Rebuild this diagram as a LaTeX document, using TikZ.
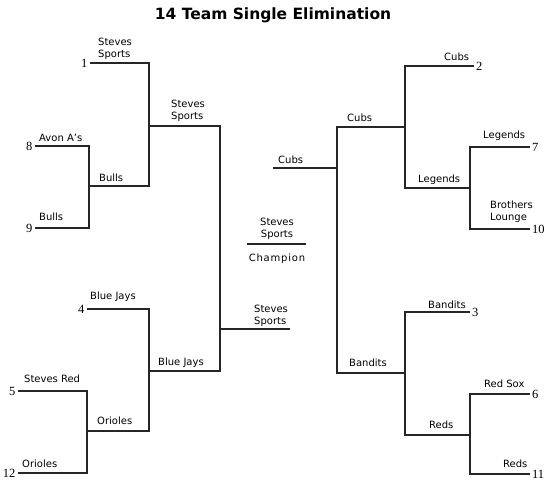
\documentclass[tikz,border=0pt]{standalone}
\usepackage{fontspec}
\setmainfont{DejaVu Sans}
\newfontfamily\seedfont{Liberation Serif}
\usetikzlibrary{positioning}
\tikzset{
  bline/.style={line width=2.8pt, black!85, line join=miter},
  team/.style={font=\fontsize{10}{12}\selectfont, inner sep=0pt, anchor=base west, align=left},
  seed/.style={font=\seedfont\fontsize{12.5}{14}\selectfont, inner xsep=2.5pt, inner ysep=0pt},
}

\begin{document}
\begin{tikzpicture}[x=1pt,y=-1pt]
  \useasboundingbox (0,0) rectangle (546,480);
  \node[font=\fontsize{15.5}{18}\selectfont\bfseries] (title) at (273,15) {14 Team Single Elimination};
  % slot lines: name / joined end / free end / height
  \foreach \n/\xa/\xb/\y in {s1/149/90/63, s8/89/35/146, s9/89/35/228, bulls/149/89/186,
      ss/220/149/126, s4/149/87/309, s5/87/18/391, s12/87/18/473, ori/149/87/431,
      bj/220/149/371, lfin/290/220/329,
      s2/405/474/66, s7/470/530/147, s10/470/530/229, leg/405/470/188,
      cubs/337/405/127, s3/405/470/312, s6/470/530/394, s11/470/530/474,
      reds/405/470/435, ban/337/405/373, rfin/273/337/168} {
    \coordinate (\n-a) at (\xa,\y);
    \coordinate (\n-b) at (\xb,\y);
  }
  \coordinate (ch-a) at (247,244);
  \coordinate (ch-b) at (306,244);
  % brackets
  \foreach \p/\q in {s8/s9, s1/bulls, s5/s12, s4/ori, ss/bj,
                     s7/s10, s2/leg, s6/s11, s3/reds, cubs/ban}
    \draw[bline] (\p-b) -- (\p-a) -- (\q-a) -- (\q-b);
  \draw[bline] (lfin-b) -- (lfin-a);
  \draw[bline] (rfin-a) -- (rfin-b);
  \draw[bline] (ch-a) -- (ch-b);
  % seeds
  \foreach \n/\s in {s1/1, s8/8, s9/9, s4/4, s5/5, s12/12}
    \node[seed, anchor=east] (seed\s) at (\n-b) {\s};
  \foreach \n/\s in {s2/2, s7/7, s10/10, s3/3, s6/6, s11/11}
    \node[seed, anchor=west, inner xsep=1.8pt] (seed\s) at (\n-b) {\s};
  % team names (two-line ones sit on their last line)
  \foreach \n/\x/\y/\t in {s1/98/57/{Steves\\Sports}, ss/171/119/{Steves\\Sports},
      s8/39/141/{Avon A's}, s9/39/220/Bulls, bulls/99/181/Bulls,
      s4/90/299/{Blue Jays}, s5/24/382/{Steves Red}, s12/22/467/Orioles,
      ori/97/424/Orioles, bj/158/365/{Blue Jays}, lfin/254/324/{Steves\\Sports},
      s2/444/60/Cubs, cubs/347/121/Cubs, rfin/278/163/Cubs,
      s7/483/138/Legends, leg/418/182/Legends, s10/490/220/{Brothers\\Lounge},
      s3/428/308/Bandits, ban/349/366/Bandits, s6/484/387/{Red Sox},
      reds/429/428/Reds, s11/503/467/Reds}
    \node[team] (lab-\n) at (\x,\y) {\t};
  \node[team, anchor=base, align=center] (champ) at (277,237) {Steves\\Sports};
  \node[team, anchor=base] (champlab) at (277,261) {\addfontfeature{LetterSpace=8}Champion};
\end{tikzpicture}
\end{document}
